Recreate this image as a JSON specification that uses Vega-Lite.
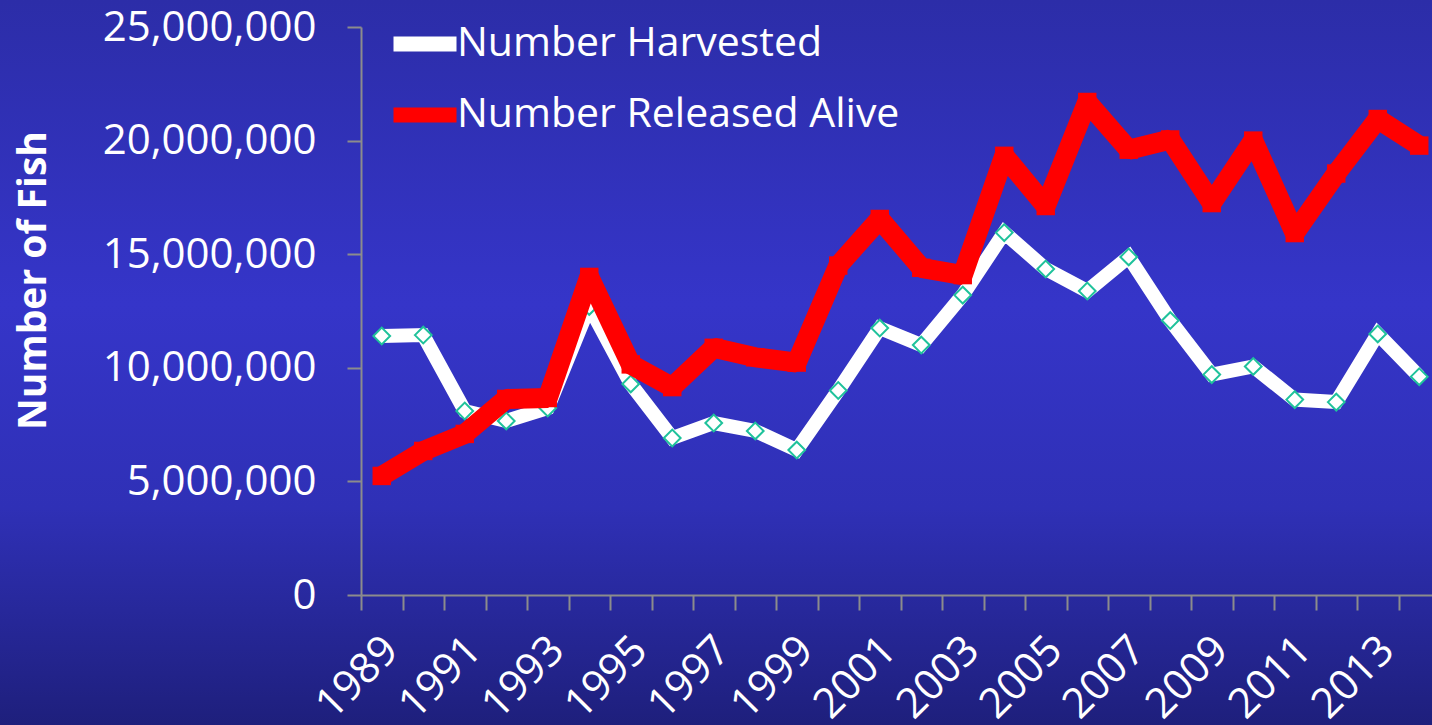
{
  "$schema": "https://vega.github.io/schema/vega-lite/v6.json",
  "width": 1432,
  "height": 725,
  "autosize": {"type": "none"},
  "padding": 0,
  "background": "#2E2FB0",
  "view": {
    "stroke": null,
    "fill": {
      "gradient": "linear",
      "x1": 0, "y1": 0, "x2": 0, "y2": 1,
      "stops": [
        {"offset": 0, "color": "#2C2DA8"},
        {"offset": 0.42, "color": "#3535C9"},
        {"offset": 0.7, "color": "#2F30B6"},
        {"offset": 1, "color": "#1E1F7C"}
      ]
    }
  },
  "data": {
    "values": [
      {"year": 1989, "series": "Number Harvested", "fish": 11400000},
      {"year": 1990, "series": "Number Harvested", "fish": 11440000},
      {"year": 1991, "series": "Number Harvested", "fish": 8100000},
      {"year": 1992, "series": "Number Harvested", "fish": 7660000},
      {"year": 1993, "series": "Number Harvested", "fish": 8230000},
      {"year": 1994, "series": "Number Harvested", "fish": 12700000},
      {"year": 1995, "series": "Number Harvested", "fish": 9290000},
      {"year": 1996, "series": "Number Harvested", "fish": 6910000},
      {"year": 1997, "series": "Number Harvested", "fish": 7570000},
      {"year": 1998, "series": "Number Harvested", "fish": 7220000},
      {"year": 1999, "series": "Number Harvested", "fish": 6380000},
      {"year": 2000, "series": "Number Harvested", "fish": 9000000},
      {"year": 2001, "series": "Number Harvested", "fish": 11750000},
      {"year": 2002, "series": "Number Harvested", "fish": 11000000},
      {"year": 2003, "series": "Number Harvested", "fish": 13200000},
      {"year": 2004, "series": "Number Harvested", "fish": 15950000},
      {"year": 2005, "series": "Number Harvested", "fish": 14350000},
      {"year": 2006, "series": "Number Harvested", "fish": 13380000},
      {"year": 2007, "series": "Number Harvested", "fish": 14880000},
      {"year": 2008, "series": "Number Harvested", "fish": 12080000},
      {"year": 2009, "series": "Number Harvested", "fish": 9700000},
      {"year": 2010, "series": "Number Harvested", "fish": 10060000},
      {"year": 2011, "series": "Number Harvested", "fish": 8600000},
      {"year": 2012, "series": "Number Harvested", "fish": 8490000},
      {"year": 2013, "series": "Number Harvested", "fish": 11490000},
      {"year": 2014, "series": "Number Harvested", "fish": 9610000},
      {"year": 1989, "series": "Number Released Alive", "fish": 5240000},
      {"year": 1990, "series": "Number Released Alive", "fish": 6340000},
      {"year": 1991, "series": "Number Released Alive", "fish": 7090000},
      {"year": 1992, "series": "Number Released Alive", "fish": 8630000},
      {"year": 1993, "series": "Number Released Alive", "fish": 8670000},
      {"year": 1994, "series": "Number Released Alive", "fish": 14000000},
      {"year": 1995, "series": "Number Released Alive", "fish": 10150000},
      {"year": 1996, "series": "Number Released Alive", "fish": 9150000},
      {"year": 1997, "series": "Number Released Alive", "fish": 10880000},
      {"year": 1998, "series": "Number Released Alive", "fish": 10460000},
      {"year": 1999, "series": "Number Released Alive", "fish": 10230000},
      {"year": 2000, "series": "Number Released Alive", "fish": 14500000},
      {"year": 2001, "series": "Number Released Alive", "fish": 16550000},
      {"year": 2002, "series": "Number Released Alive", "fish": 14400000},
      {"year": 2003, "series": "Number Released Alive", "fish": 14080000},
      {"year": 2004, "series": "Number Released Alive", "fish": 19330000},
      {"year": 2005, "series": "Number Released Alive", "fish": 17120000},
      {"year": 2006, "series": "Number Released Alive", "fish": 21700000},
      {"year": 2007, "series": "Number Released Alive", "fish": 19600000},
      {"year": 2008, "series": "Number Released Alive", "fish": 20050000},
      {"year": 2009, "series": "Number Released Alive", "fish": 17250000},
      {"year": 2010, "series": "Number Released Alive", "fish": 20000000},
      {"year": 2011, "series": "Number Released Alive", "fish": 15930000},
      {"year": 2012, "series": "Number Released Alive", "fish": 18550000},
      {"year": 2013, "series": "Number Released Alive", "fish": 20950000},
      {"year": 2014, "series": "Number Released Alive", "fish": 19780000}
    ]
  },
  "encoding": {
    "x": {
      "field": "year",
      "type": "ordinal",
      "scale": {"type": "band", "range": [361, 1440], "paddingInner": 0, "paddingOuter": 0},
      "axis": {
        "title": null,
        "orient": "bottom",
        "offset": -130,
        "tickBand": "extent",
        "labelAngle": -45,
        "labelAlign": "right",
        "labelBaseline": "top",
        "labelFont": "Open Sans",
        "labelFontSize": 42,
        "labelColor": "white",
        "labelPadding": 19,
        "labelOffset": -5,
        "labelOverlap": false,
        "labelLimit": 400,
        "labelExpr": "(datum.value - 1989) % 2 == 0 ? datum.label : ''",
        "tickSize": 15,
        "tickColor": "#8C8C8C",
        "tickWidth": 2,
        "domainColor": "#8C8C8C",
        "domainWidth": 2,
        "grid": false
      }
    },
    "y": {
      "field": "fish",
      "type": "quantitative",
      "scale": {"domain": [0, 25000000], "range": [595, 27], "nice": false},
      "axis": {
        "title": "Number of Fish",
        "offset": -361,
        "values": [0, 5000000, 10000000, 15000000, 20000000, 25000000],
        "format": ",d",
        "labelFont": "Open Sans",
        "labelFontSize": 42,
        "labelColor": "white",
        "labelPadding": 31,
        "labelLimit": 400,
        "tickSize": 14,
        "tickColor": "#8C8C8C",
        "tickWidth": 2,
        "domainColor": "#8C8C8C",
        "domainWidth": 2,
        "grid": false,
        "titleFont": "Open Sans",
        "titleFontWeight": "bold",
        "titleFontSize": 39,
        "titleColor": "white",
        "titleAngle": -90,
        "titleBaseline": "middle",
        "titleAlign": "center",
        "titleX": -328,
        "titleY": 280
      }
    }
  },
  "layer": [
    {
      "transform": [{"filter": "datum.series == 'Number Harvested'"}],
      "mark": {"type": "line", "strokeWidth": 14, "strokeJoin": "miter"},
      "encoding": {
        "color": {
          "field": "series",
          "type": "nominal",
          "scale": {"domain": ["Number Harvested", "Number Released Alive"], "range": ["#FFFFFF", "#FF0000"]},
          "legend": {
            "orient": "none",
            "legendX": 386,
            "legendY": 5,
            "title": null,
            "padding": 0,
            "labelFont": "Open Sans",
            "labelFontSize": 41,
            "labelColor": "white",
            "labelLimit": 1000,
            "labelOffset": -7,
            "symbolType": "stroke",
            "symbolSize": 3969,
            "symbolStrokeWidth": 15,
            "rowPadding": 2
          }
        }
      }
    },
    {
      "transform": [{"filter": "datum.series == 'Number Harvested'"}],
      "mark": {"type": "point", "shape": "diamond", "size": 280, "filled": true, "fill": "#FFFFFF", "stroke": "#1FC29B", "strokeWidth": 2, "opacity": 1}
    },
    {
      "transform": [{"filter": "datum.series == 'Number Released Alive'"}],
      "mark": {"type": "line", "strokeWidth": 20, "strokeJoin": "bevel"},
      "encoding": {
        "color": {"field": "series", "type": "nominal"}
      }
    },
    {
      "transform": [{"filter": "datum.series == 'Number Released Alive'"}],
      "mark": {"type": "point", "shape": "square", "size": 340, "filled": true, "fill": "#FF0000", "strokeWidth": 0, "opacity": 1}
    }
  ]
}
